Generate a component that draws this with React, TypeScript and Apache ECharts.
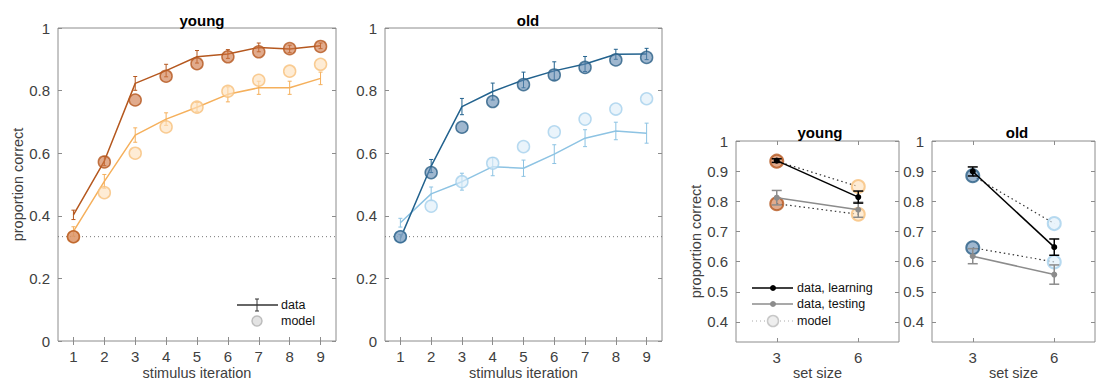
import React, { useEffect, useRef } from "react";
import * as echarts from "echarts";

// ---------- data ----------
const iterations = [1, 2, 3, 4, 5, 6, 7, 8, 9];
const chance = 1 / 3;

const youngSS3Data = [0.403, 0.575, 0.823, 0.864, 0.908, 0.917, 0.938, 0.933, 0.943];
const youngSS3Err = [0.015, 0.015, 0.022, 0.02, 0.02, 0.014, 0.014, 0.012, 0.009];
const youngSS3Model = [0.333, 0.572, 0.77, 0.846, 0.886, 0.908, 0.924, 0.934, 0.941];
const youngSS6Data = [0.35, 0.51, 0.658, 0.709, 0.747, 0.788, 0.809, 0.809, 0.839];
const youngSS6Err = [0.015, 0.022, 0.023, 0.02, 0.015, 0.024, 0.021, 0.021, 0.02];
const youngSS6Model = [0.333, 0.474, 0.6, 0.684, 0.747, 0.798, 0.833, 0.862, 0.884];

const oldSS3Data = [0.328, 0.559, 0.749, 0.797, 0.834, 0.863, 0.885, 0.916, 0.917];
const oldSS3Err = [0.012, 0.021, 0.026, 0.027, 0.025, 0.029, 0.024, 0.016, 0.018];
const oldSS3Model = [0.333, 0.538, 0.683, 0.765, 0.819, 0.85, 0.874, 0.898, 0.906];
const oldSS6Data = [0.378, 0.47, 0.509, 0.557, 0.552, 0.597, 0.648, 0.671, 0.664];
const oldSS6Err = [0.014, 0.022, 0.027, 0.029, 0.026, 0.03, 0.027, 0.028, 0.032];
const oldSS6Model = [0.333, 0.431, 0.509, 0.568, 0.621, 0.668, 0.709, 0.741, 0.774];

const setSizes = [3, 6];
const youngLearnData = [0.935, 0.814];
const youngLearnErr = [0.006, 0.02];
const youngTestData = [0.812, 0.772];
const youngTestErr = [0.024, 0.025];
const youngLearnModel = [0.933, 0.849];
const youngTestModel = [0.792, 0.757];

const oldLearnData = [0.899, 0.648];
const oldLearnErr = [0.015, 0.027];
const oldTestData = [0.618, 0.557];
const oldTestErr = [0.025, 0.032];
const oldLearnModel = [0.885, 0.726];
const oldTestModel = [0.646, 0.599];

const leftYTicks = [0, 0.2, 0.4, 0.6, 0.8, 1];
const rightYTicks = [0.4, 0.5, 0.6, 0.7, 0.8, 0.9, 1];

// ---------- styles ----------
const FONT = "Liberation Sans, Arial, Helvetica, sans-serif";
const AX = "#8c8c8c";
const TXT = "#404040";

const C = {
  youngDark: { line: "#b5581f", fill: "rgba(205,115,65,0.75)", border: "#b5581f" },
  youngLight: { line: "#f5b05c", fill: "rgba(253,226,190,0.8)", border: "#f7c07c" },
  oldDark: { line: "#22628e", fill: "rgba(95,135,175,0.75)", border: "#2b5f86" },
  oldLight: { line: "#8dc3e3", fill: "rgba(222,238,249,0.8)", border: "#a6d1ec" },
};

const zip = (xs: number[], ys: number[]) => xs.map((x, i) => [x, ys[i]]);
const zip3 = (xs: number[], ys: number[], es: number[]) => xs.map((x, i) => [x, ys[i], es[i]]);

function errRender(color: string, cap: number, lw: number) {
  return (params: any, api: any) => {
    const x = api.value(0);
    const y = api.value(1);
    const e = api.value(2);
    const p1 = api.coord([x, y - e]);
    const p2 = api.coord([x, y + e]);
    const h = cap / 2;
    const st = { stroke: color, lineWidth: lw };
    return {
      type: "group",
      children: [
        { type: "line", shape: { x1: p1[0], y1: p1[1], x2: p2[0], y2: p2[1] }, style: st },
        { type: "line", shape: { x1: p1[0] - h, y1: p1[1], x2: p1[0] + h, y2: p1[1] }, style: st },
        { type: "line", shape: { x1: p2[0] - h, y1: p2[1], x2: p2[0] + h, y2: p2[1] }, style: st },
      ],
    };
  };
}

function makeAxes(
  g: number,
  xMin: number,
  xMax: number,
  xTicks: number[],
  yMin: number,
  yMax: number,
  yTicks: number[],
  xName: string,
  xNameGap: number,
  yName: string,
  yNameGap: number
) {
  const tick = { show: true, inside: true, length: 4, lineStyle: { color: AX } };
  const xs = [
    {
      type: "value",
      gridIndex: g,
      min: xMin,
      max: xMax,
      position: "bottom",
      axisLine: { show: false },
      axisTick: { ...tick, customValues: xTicks },
      axisLabel: { customValues: xTicks, color: TXT, fontSize: 15, fontFamily: FONT, margin: 8 },
      splitLine: { show: false },
      name: xName,
      nameLocation: "middle",
      nameGap: xNameGap,
      nameMoveOverlap: false,
      nameTextStyle: { color: TXT, fontSize: 14.5, fontFamily: FONT },
    },
    {
      type: "value",
      gridIndex: g,
      min: xMin,
      max: xMax,
      position: "top",
      axisLine: { show: false },
      axisTick: { ...tick, customValues: xTicks },
      axisLabel: { show: false },
      splitLine: { show: false },
    },
  ];
  const ys = [
    {
      type: "value",
      gridIndex: g,
      min: yMin,
      max: yMax,
      position: "left",
      axisLine: { show: false },
      axisTick: { ...tick, customValues: yTicks },
      axisLabel: {
        customValues: yTicks,
        color: TXT,
        fontSize: 15,
        fontFamily: FONT,
        margin: 8,
        formatter: (v: number) => String(Math.round(v * 10) / 10),
      },
      splitLine: { show: false },
      name: yName,
      nameLocation: "middle",
      nameGap: yNameGap,
      nameRotate: 90,
      nameTextStyle: { color: TXT, fontSize: 14.5, fontFamily: FONT },
    },
    {
      type: "value",
      gridIndex: g,
      min: yMin,
      max: yMax,
      position: "right",
      axisLine: { show: false },
      axisTick: { ...tick, customValues: yTicks },
      axisLabel: { show: false },
      splitLine: { show: false },
    },
  ];
  return { xs, ys };
}

function leftSeries(
  g: number,
  dark: any,
  light: any,
  d3: number[],
  e3: number[],
  m3: number[],
  d6: number[],
  e6: number[],
  m6: number[]
) {
  const ax = { xAxisIndex: 2 * g, yAxisIndex: 2 * g };
  return [
    {
      type: "line",
      ...ax,
      data: [[0.5, chance], [9.5, chance]],
      symbol: "none",
      lineStyle: { color: "#777", width: 1, type: [1, 3] },
      silent: true,
      z: 1,
    },
    { type: "line", ...ax, data: zip(iterations, d6), symbol: "none", lineStyle: { color: light.line, width: 1.5 }, z: 2 },
    { type: "custom", ...ax, data: zip3(iterations, d6, e6), renderItem: errRender(light.line, 4, 1), z: 2 },
    { type: "line", ...ax, data: zip(iterations, d3), symbol: "none", lineStyle: { color: dark.line, width: 1.5 }, z: 3 },
    { type: "custom", ...ax, data: zip3(iterations, d3, e3), renderItem: errRender(dark.line, 4, 1), z: 3 },
    {
      type: "scatter",
      ...ax,
      data: zip(iterations, m6),
      symbol: "circle",
      symbolSize: 12,
      itemStyle: { color: light.fill, borderColor: light.border, borderWidth: 1.5 },
      z: 4,
    },
    {
      type: "scatter",
      ...ax,
      data: zip(iterations, m3),
      symbol: "circle",
      symbolSize: 12,
      itemStyle: { color: dark.fill, borderColor: dark.border, borderWidth: 1.5 },
      z: 5,
    },
  ];
}

function rightSeries(
  g: number,
  dark: any,
  light: any,
  ld: number[],
  le: number[],
  td: number[],
  te: number[],
  lm: number[],
  tm: number[]
) {
  const ax = { xAxisIndex: 2 * g, yAxisIndex: 2 * g };
  const circ = (vals: number[]) =>
    vals.map((v, i) => ({
      value: [setSizes[i], v],
      itemStyle: {
        color: i === 0 ? dark.fill : light.fill,
        borderColor: i === 0 ? dark.border : light.border,
        borderWidth: 2,
      },
    }));
  return [
    { type: "line", ...ax, data: zip(setSizes, lm), symbol: "none", lineStyle: { color: "#333", width: 1.2, type: [1.5, 3] }, z: 2 },
    { type: "line", ...ax, data: zip(setSizes, tm), symbol: "none", lineStyle: { color: "#333", width: 1.2, type: [1.5, 3] }, z: 2 },
    { type: "scatter", ...ax, data: circ(lm), symbol: "circle", symbolSize: 13, z: 3 },
    { type: "scatter", ...ax, data: circ(tm), symbol: "circle", symbolSize: 13, z: 3 },
    {
      type: "line",
      ...ax,
      data: zip(setSizes, td),
      symbol: "circle",
      symbolSize: 6,
      itemStyle: { color: "#8c8c8c" },
      lineStyle: { color: "#8c8c8c", width: 1.5 },
      z: 4,
    },
    { type: "custom", ...ax, data: zip3(setSizes, td, te), renderItem: errRender("#8c8c8c", 10, 1.5), z: 4 },
    {
      type: "line",
      ...ax,
      data: zip(setSizes, ld),
      symbol: "circle",
      symbolSize: 6,
      itemStyle: { color: "#000" },
      lineStyle: { color: "#000", width: 1.5 },
      z: 5,
    },
    { type: "custom", ...ax, data: zip3(setSizes, ld, le), renderItem: errRender("#000", 10, 1.5), z: 5 },
  ];
}

export default function App() {
  const ref = useRef<HTMLDivElement>(null);
  useEffect(() => {
    if (!ref.current) return;
    const chart = echarts.init(ref.current, null, { renderer: "svg" });

    const a0 = makeAxes(0, 0.5, 9.5, iterations, 0, 1, leftYTicks, "stimulus iteration", 24, "proportion correct", 32);
    const a1 = makeAxes(1, 0.5, 9.5, iterations, 0, 1, leftYTicks, "stimulus iteration", 24, "", 32);
    const a2 = makeAxes(2, 1.5, 7.5, setSizes, chance, 1, rightYTicks, "set size", 23, "proportion correct", 32);
    const a3 = makeAxes(3, 1.5, 7.5, setSizes, chance, 1, rightYTicks, "set size", 23, "", 32);

    const gridBase = {
      show: true,
      borderColor: AX,
      borderWidth: 1,
      backgroundColor: "transparent",
      containLabel: false,
      outerBoundsMode: "none",
    };

    const titleStyle = { fontSize: 15, fontWeight: "bold", color: "#000", fontFamily: FONT };

    const legendText = (x: number, y: number, t: string) => ({
      type: "text",
      x,
      y,
      style: { text: t, fill: "#111", fontSize: 12.5, fontFamily: FONT, verticalAlign: "middle", align: "left" },
    });

    const option: any = {
      animation: false,
      backgroundColor: "#fff",
      title: [
        { text: "young", left: 197, top: 8, textAlign: "center", textStyle: titleStyle },
        { text: "old", left: 523, top: 8, textAlign: "center", textStyle: titleStyle },
        { text: "young", left: 815, top: 120, textAlign: "center", textStyle: titleStyle },
        { text: "old", left: 1012, top: 120, textAlign: "center", textStyle: titleStyle },
      ],
      grid: [
        { ...gridBase, left: 58, top: 28, width: 278, height: 313 },
        { ...gridBase, left: 385, top: 28, width: 277, height: 313 },
        { ...gridBase, left: 736, top: 141, width: 163, height: 201 },
        { ...gridBase, left: 932, top: 141, width: 163, height: 201 },
      ],
      xAxis: [...a0.xs, ...a1.xs, ...a2.xs, ...a3.xs],
      yAxis: [...a0.ys, ...a1.ys, ...a2.ys, ...a3.ys],
      series: [
        ...leftSeries(0, C.youngDark, C.youngLight, youngSS3Data, youngSS3Err, youngSS3Model, youngSS6Data, youngSS6Err, youngSS6Model),
        ...leftSeries(1, C.oldDark, C.oldLight, oldSS3Data, oldSS3Err, oldSS3Model, oldSS6Data, oldSS6Err, oldSS6Model),
        ...rightSeries(2, C.youngDark, C.youngLight, youngLearnData, youngLearnErr, youngTestData, youngTestErr, youngLearnModel, youngTestModel),
        ...rightSeries(3, C.oldDark, C.oldLight, oldLearnData, oldLearnErr, oldTestData, oldTestErr, oldLearnModel, oldTestModel),
      ],
      graphic: [
        // left legend
        { type: "line", shape: { x1: 237, y1: 305, x2: 278, y2: 305 }, style: { stroke: "#333", lineWidth: 1.5 } },
        { type: "line", shape: { x1: 257, y1: 299, x2: 257, y2: 311 }, style: { stroke: "#333", lineWidth: 1 } },
        { type: "line", shape: { x1: 255, y1: 299, x2: 259, y2: 299 }, style: { stroke: "#333", lineWidth: 1 } },
        { type: "line", shape: { x1: 255, y1: 311, x2: 259, y2: 311 }, style: { stroke: "#333", lineWidth: 1 } },
        legendText(281, 305, "data"),
        { type: "circle", shape: { cx: 257, cy: 321, r: 5 }, style: { fill: "#e3e3e3", stroke: "#bdbdbd", lineWidth: 1.5 } },
        legendText(281, 321, "model"),
        // right legend
        { type: "line", shape: { x1: 752, y1: 288, x2: 793, y2: 288 }, style: { stroke: "#000", lineWidth: 1.5 } },
        { type: "circle", shape: { cx: 773, cy: 288, r: 3 }, style: { fill: "#000" } },
        legendText(797, 288, "data, learning"),
        { type: "line", shape: { x1: 752, y1: 304, x2: 793, y2: 304 }, style: { stroke: "#8c8c8c", lineWidth: 1.5 } },
        { type: "circle", shape: { cx: 773, cy: 304, r: 3 }, style: { fill: "#8c8c8c" } },
        legendText(797, 304, "data, testing"),
        { type: "line", shape: { x1: 752, y1: 321, x2: 793, y2: 321 }, style: { stroke: "#aaa", lineWidth: 1, lineDash: [1, 3] } },
        { type: "circle", shape: { cx: 773, cy: 321, r: 5.5 }, style: { fill: "#eeeeee", stroke: "#c8c8c8", lineWidth: 1.5 } },
        legendText(797, 321, "model"),
      ],
    };
    chart.setOption(option);
    return () => chart.dispose();
  }, []);
  return (
    <div
      ref={ref}
      style={{ position: "fixed", left: 0, top: 0, width: 1106, height: 383, background: "#fff" }}
    />
  );
}
